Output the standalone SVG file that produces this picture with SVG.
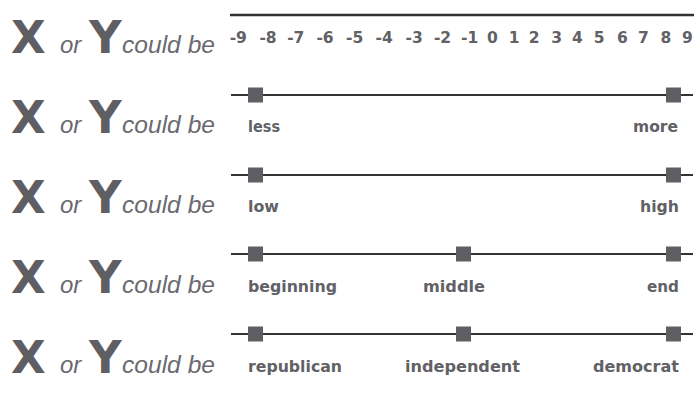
<svg xmlns="http://www.w3.org/2000/svg" width="700" height="401" viewBox="0 0 700 401">
<style>
.big{font-family:"DejaVu Sans",sans-serif;font-weight:bold;font-size:45px;fill:#5e5e63}
.it{font-family:"Liberation Sans",Arial,sans-serif;font-style:italic;font-size:24px;fill:#6a6a6f}
.num{font-family:"DejaVu Sans",sans-serif;font-weight:bold;font-size:15.5px;fill:#616166;text-anchor:middle}
.lab{font-family:"DejaVu Sans",sans-serif;font-weight:bold;font-size:16px;fill:#616166}
.axis{stroke:#333;stroke-width:2.5;fill:none}
.line{stroke:#333;stroke-width:2;fill:none}
.sq{fill:#5e5e63}
</style>
<defs>
<g id="xy">
<text class="big" x="11" y="53">X</text>
<text class="it" x="60" y="53">or</text>
<text class="big" x="89" y="53">Y</text>
<text class="it" x="122" y="53" textLength="93" lengthAdjust="spacingAndGlyphs">could be</text>
</g>
<rect id="m" class="sq" x="-7.5" y="-7.5" width="15" height="15"/>
</defs>
<g id="row1">
<use href="#xy"/>
<line class="axis" x1="230" y1="15" x2="694" y2="15"/>
<text class="num" x="238.3" y="43">-9</text>
<text class="num" x="268" y="43">-8</text>
<text class="num" x="295.8" y="43">-7</text>
<text class="num" x="325" y="43">-6</text>
<text class="num" x="354.7" y="43">-5</text>
<text class="num" x="384.2" y="43">-4</text>
<text class="num" x="414.2" y="43">-3</text>
<text class="num" x="442.5" y="43">-2</text>
<text class="num" x="469.7" y="43">-1</text>
<text class="num" x="492.5" y="43">0</text>
<text class="num" x="514.2" y="43">1</text>
<text class="num" x="534.2" y="43">2</text>
<text class="num" x="556.7" y="43">3</text>
<text class="num" x="577.5" y="43">4</text>
<text class="num" x="599.2" y="43">5</text>
<text class="num" x="622.5" y="43">6</text>
<text class="num" x="643.3" y="43">7</text>
<text class="num" x="665.8" y="43">8</text>
<text class="num" x="687.5" y="43">9</text>
</g>
<g id="row2">
<use href="#xy" y="80"/>
<line class="line" x1="231" y1="95" x2="693" y2="95"/>
<use href="#m" x="255.5" y="95"/>
<use href="#m" x="673.5" y="95"/>
<text class="lab" x="248" y="132" textLength="32" lengthAdjust="spacingAndGlyphs">less</text>
<text class="lab" x="633" y="132" textLength="45" lengthAdjust="spacingAndGlyphs">more</text>
</g>
<g id="row3">
<use href="#xy" y="160"/>
<line class="line" x1="231" y1="175" x2="693" y2="175"/>
<use href="#m" x="255.5" y="175"/>
<use href="#m" x="673.5" y="175"/>
<text class="lab" x="248" y="212" textLength="31" lengthAdjust="spacingAndGlyphs">low</text>
<text class="lab" x="640" y="212" textLength="39" lengthAdjust="spacingAndGlyphs">high</text>
</g>
<g id="row4">
<use href="#xy" y="240"/>
<line class="line" x1="231" y1="254" x2="693" y2="254"/>
<use href="#m" x="255.5" y="254"/>
<use href="#m" x="463.5" y="254"/>
<use href="#m" x="673.5" y="254"/>
<text class="lab" x="248" y="292" textLength="89" lengthAdjust="spacingAndGlyphs">beginning</text>
<text class="lab" x="423" y="292" textLength="62" lengthAdjust="spacingAndGlyphs">middle</text>
<text class="lab" x="647" y="292" textLength="32" lengthAdjust="spacingAndGlyphs">end</text>
</g>
<g id="row5">
<use href="#xy" y="320"/>
<line class="line" x1="231" y1="334" x2="693" y2="334"/>
<use href="#m" x="255.5" y="334"/>
<use href="#m" x="463.5" y="334"/>
<use href="#m" x="673.5" y="334"/>
<text class="lab" x="248" y="372" textLength="94" lengthAdjust="spacingAndGlyphs">republican</text>
<text class="lab" x="405" y="372" textLength="115" lengthAdjust="spacingAndGlyphs">independent</text>
<text class="lab" x="593" y="372" textLength="86" lengthAdjust="spacingAndGlyphs">democrat</text>
</g>
</svg>
